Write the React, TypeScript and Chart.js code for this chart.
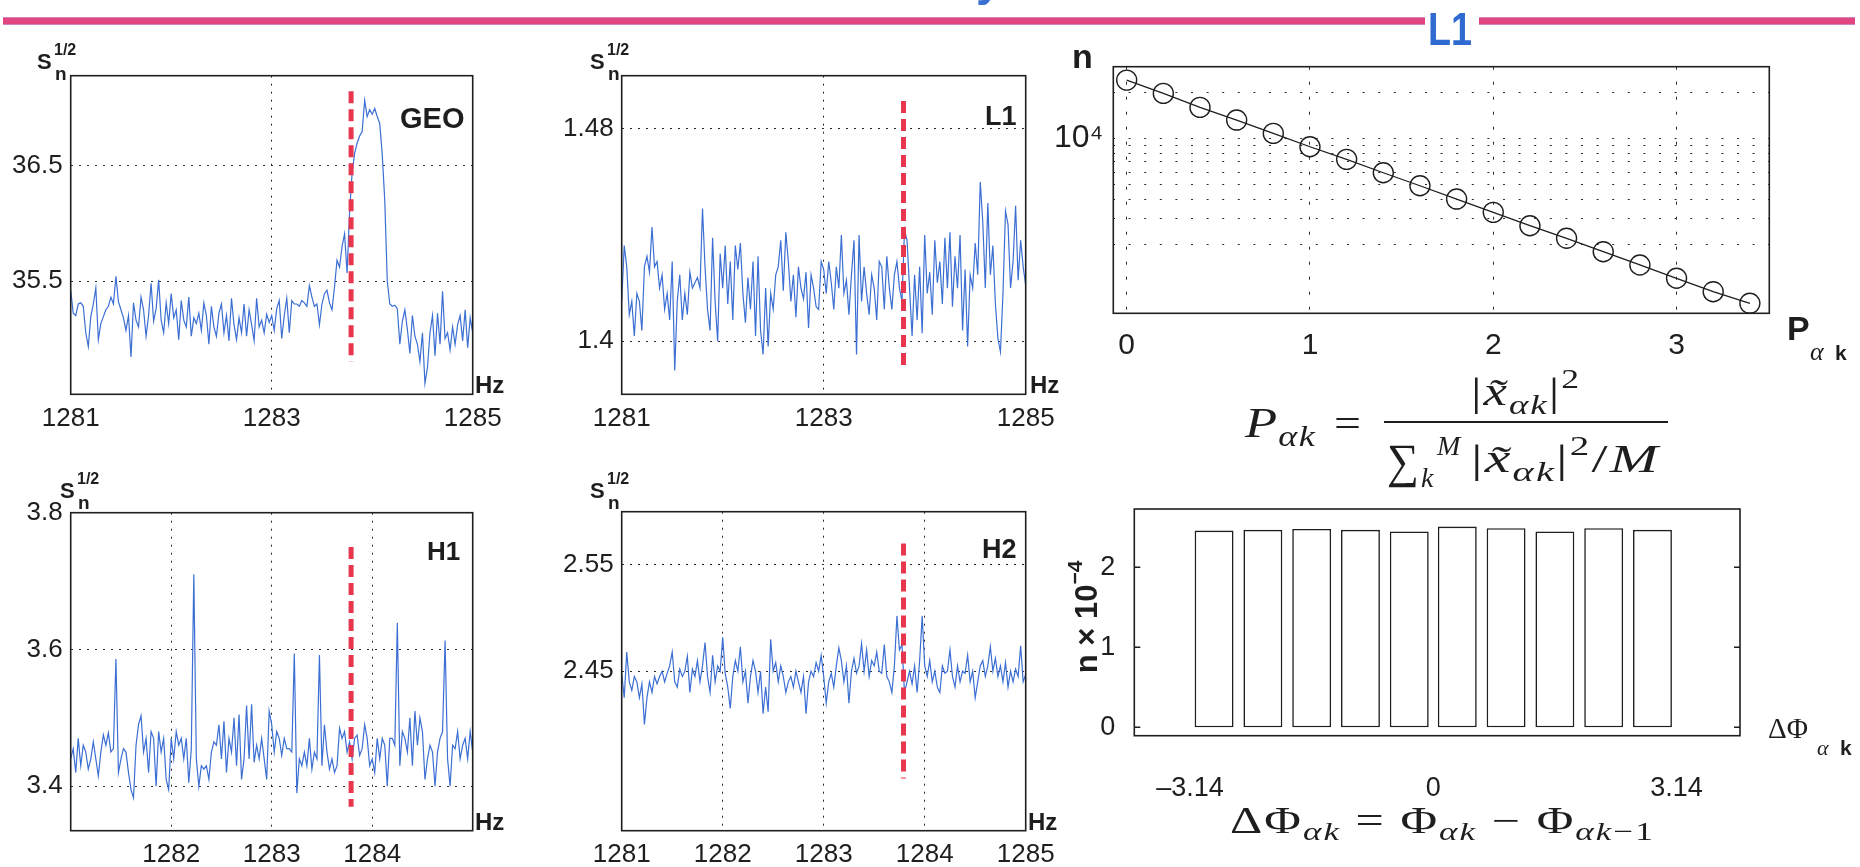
import React, { useEffect, useRef } from 'react';
import { Chart, registerables } from 'chart.js';

Chart.register(...registerables);

const SANS = '"Liberation Sans", Arial, Helvetica, sans-serif';
const SERIF = '"Liberation Serif", "Times New Roman", serif';
const BLUE = '#3c6fd3';
const RED = '#e8364e';
const INK = '#1e1e1e';

// ---------- spectra (frequency bins in Hz) ----------
const FREQ_START = 1281;
const FREQ_STEP = 0.025;

const geoValues = [
  35.42, 35.22, 35.20, 35.30, 35.31, 35.28, 35.05, 34.93, 35.19, 35.30,
  35.44, 34.99, 35.13, 35.19, 35.25, 35.28, 35.36, 35.30, 35.54, 35.32,
  35.25, 35.18, 35.07, 35.20, 34.84, 35.31, 35.16, 35.10, 35.36, 35.25,
  35.02, 35.20, 35.48, 35.15, 35.26, 35.51, 35.16, 35.05, 35.31, 35.13,
  35.39, 35.18, 35.25, 34.99, 35.33, 35.16, 35.10, 35.36, 35.02, 35.18,
  35.13, 35.22, 35.07, 35.31, 35.20, 34.95, 35.28, 35.10, 35.02, 35.22,
  35.30, 35.05, 35.20, 34.98, 35.35, 35.12, 34.99, 35.18, 35.05, 35.30,
  35.02, 35.25, 35.12, 34.98, 35.35, 35.10, 35.16, 35.05, 35.21, 35.14,
  35.20, 35.07, 35.26, 35.33, 35.00, 35.20, 35.35, 35.05, 35.33, 35.30,
  35.30, 35.28, 35.33, 35.31, 35.28, 35.46, 35.36, 35.28, 35.30, 35.12,
  35.30, 35.39, 35.42, 35.31, 35.25, 35.45, 35.68, 35.62, 35.80, 35.91,
  35.57, 36.10, 36.44, 36.61, 36.70, 36.76, 36.80, 37.07, 36.93, 36.99,
  36.95, 37.00, 36.93, 36.87, 36.60, 36.20, 35.50, 35.30, 35.28, 35.29,
  35.26, 34.95, 35.15, 35.25, 35.08, 34.87, 35.20, 35.02, 34.95, 34.80,
  35.05, 34.61, 34.75, 35.05, 35.20, 34.85, 35.22, 34.95, 35.41, 35.00,
  35.05, 34.90, 35.10, 34.95, 35.12, 35.20, 34.98, 35.25, 34.92, 35.18,
  35.05,
];

const l1Values = [
  1.415, 1.436, 1.428, 1.410, 1.415, 1.402, 1.418, 1.415, 1.404, 1.428,
  1.432, 1.426, 1.443, 1.428, 1.430, 1.420, 1.425, 1.412, 1.418, 1.408,
  1.430, 1.389, 1.415, 1.425, 1.408, 1.418, 1.410, 1.426, 1.420, 1.422,
  1.424, 1.420, 1.450, 1.428, 1.412, 1.404, 1.439, 1.415, 1.400, 1.433,
  1.420, 1.436, 1.414, 1.430, 1.408, 1.436, 1.427, 1.437, 1.418, 1.407,
  1.424, 1.412, 1.430, 1.402, 1.432, 1.404, 1.395, 1.420, 1.398, 1.418,
  1.412, 1.425, 1.428, 1.438, 1.419, 1.441, 1.430, 1.415, 1.425, 1.409,
  1.428, 1.420, 1.416, 1.426, 1.405, 1.425, 1.420, 1.413, 1.412, 1.430,
  1.427, 1.418, 1.430, 1.422, 1.412, 1.428, 1.420, 1.440, 1.418, 1.423,
  1.410, 1.425, 1.438, 1.395, 1.440, 1.415, 1.428, 1.418, 1.410, 1.425,
  1.420, 1.408, 1.430, 1.428, 1.412, 1.432, 1.420, 1.412, 1.425, 1.430,
  1.420, 1.415, 1.442, 1.438, 1.420, 1.402, 1.425, 1.408, 1.428, 1.403,
  1.440, 1.418, 1.426, 1.410, 1.438, 1.422, 1.430, 1.414, 1.439, 1.420,
  1.441, 1.413, 1.432, 1.420, 1.440, 1.404, 1.427, 1.398, 1.425, 1.420,
  1.437, 1.425, 1.460, 1.445, 1.420, 1.452, 1.425, 1.436, 1.414, 1.401,
  1.396, 1.418, 1.449, 1.444, 1.420, 1.430, 1.451, 1.423, 1.438, 1.428,
  1.421,
];

const h1Values = [
  3.44, 3.455, 3.42, 3.47, 3.43, 3.46, 3.45, 3.425, 3.44, 3.465,
  3.44, 3.415, 3.45, 3.475, 3.46, 3.478, 3.45, 3.455, 3.586, 3.42,
  3.44, 3.455, 3.45, 3.42, 3.395, 3.383, 3.46, 3.49, 3.503, 3.45,
  3.47, 3.42, 3.48, 3.47, 3.40, 3.48, 3.45, 3.47, 3.41, 3.395,
  3.47, 3.44, 3.48, 3.46, 3.47, 3.44, 3.47, 3.405, 3.455, 3.71,
  3.44, 3.40, 3.43, 3.425, 3.43, 3.41, 3.45, 3.465, 3.46, 3.49,
  3.44, 3.495, 3.42, 3.47, 3.45, 3.50, 3.43, 3.505, 3.41, 3.44,
  3.518, 3.44, 3.52, 3.435, 3.46, 3.44, 3.47, 3.44, 3.41, 3.51,
  3.49, 3.45, 3.48, 3.47, 3.445, 3.47, 3.455, 3.455, 3.45, 3.594,
  3.39, 3.44, 3.43, 3.45, 3.43, 3.47, 3.425, 3.45, 3.44, 3.592,
  3.43, 3.49, 3.45, 3.425, 3.44, 3.42, 3.43, 3.485, 3.47, 3.48,
  3.45, 3.465, 3.44, 3.47, 3.475, 3.445, 3.455, 3.49, 3.47, 3.43,
  3.44, 3.42, 3.47, 3.44, 3.47, 3.46, 3.40, 3.47, 3.47, 3.46,
  3.639, 3.43, 3.48, 3.47, 3.45, 3.50, 3.43, 3.51, 3.46, 3.50,
  3.48, 3.41, 3.44, 3.46, 3.45, 3.40, 3.45, 3.47, 3.48, 3.613,
  3.44, 3.40, 3.46, 3.455, 3.48, 3.44, 3.46, 3.47, 3.44, 3.48,
  3.45,
];

const h2Values = [
  2.448, 2.425, 2.468, 2.44, 2.432, 2.445, 2.44, 2.425, 2.438, 2.40,
  2.425, 2.44, 2.43, 2.445, 2.438, 2.445, 2.45, 2.44, 2.448, 2.455,
  2.468, 2.44, 2.435, 2.452, 2.445, 2.45, 2.464, 2.43, 2.452, 2.445,
  2.46, 2.44, 2.455, 2.477, 2.445, 2.43, 2.465, 2.44, 2.455, 2.45,
  2.482, 2.448, 2.435, 2.415, 2.445, 2.46, 2.45, 2.473, 2.44, 2.45,
  2.42, 2.445, 2.46, 2.45, 2.43, 2.45, 2.41, 2.435, 2.412, 2.48,
  2.45, 2.458, 2.44, 2.455, 2.445, 2.43, 2.44, 2.445, 2.435, 2.45,
  2.44, 2.43, 2.445, 2.41, 2.44, 2.45, 2.445, 2.458, 2.45, 2.465,
  2.445, 2.42, 2.44, 2.448, 2.435, 2.455, 2.472, 2.46, 2.44, 2.455,
  2.42, 2.45, 2.462, 2.448, 2.455, 2.476, 2.45, 2.47, 2.445, 2.46,
  2.455, 2.468, 2.45, 2.448, 2.475, 2.445, 2.44, 2.43, 2.455, 2.502,
  2.47, 2.475, 2.43, 2.44, 2.45, 2.438, 2.455, 2.43, 2.46, 2.502,
  2.455, 2.445, 2.46, 2.44, 2.45, 2.435, 2.43, 2.455, 2.448, 2.45,
  2.47, 2.445, 2.435, 2.455, 2.44, 2.45, 2.448, 2.465, 2.44, 2.45,
  2.425, 2.44, 2.455, 2.46, 2.445, 2.455, 2.473, 2.45, 2.462, 2.445,
  2.455, 2.44, 2.458, 2.435, 2.45, 2.44, 2.452, 2.445, 2.474, 2.44,
  2.447,
];

// candidate frequency marker (red dashed line)
const markerHz = [1283.79, 1283.79];
const geoMarkerY = [37.15, 34.8];
const l1MarkerY = [1.4905, 1.3903];
const h1MarkerY = [3.75, 3.37];
const h2MarkerY = [2.57, 2.349];

// axis ticks
const geoXTicks = [1281, 1283, 1285];
const geoYTicks = [35.5, 36.5];
const l1XTicks = [1281, 1283, 1285];
const l1YTicks = [1.4, 1.48];
const h1XTicks = [1282, 1283, 1284];
const h1YTicks = [3.4, 3.6, 3.8];
const h2XTicks = [1281, 1282, 1283, 1284, 1285];
const h2YTicks = [2.45, 2.55];

// ---------- power distribution (log scale) ----------
const powerBins = [0, 0.2, 0.4, 0.6, 0.8, 1.0, 1.2, 1.4, 1.6, 1.8, 2.0, 2.2, 2.4, 2.6, 2.8, 3.0, 3.2, 3.4];
const powerCounts = [24100, 19720, 15960, 13180, 10780, 8810, 7285, 5950, 4890, 4000, 3274, 2675, 2212, 1807, 1479, 1210, 988, 829];
const powerXTicks = [0, 1, 2, 3];
const powerYGrid = [2000, 3000, 4000, 5000, 6000, 7000, 8000, 9000, 10000, 20000];

// ---------- phase difference histogram (counts x 1e-4) ----------
const phaseBinCenters = [-2.83, -2.2, -1.57, -0.94, -0.31, 0.31, 0.94, 1.57, 2.2, 2.83];
const phaseCounts = [2.46, 2.47, 2.48, 2.47, 2.45, 2.51, 2.49, 2.45, 2.49, 2.47];
const phaseXTicks = [-3.14, 0, 3.14];
const phaseYTicks = [0, 1, 2];

// ---------- helpers ----------
type Box = { left: number; top: number; width: number; height: number };
type Area = { l: number; t: number; r: number; b: number };

function frameLayout(box: Box, area: Area) {
  return {
    padding: { left: 0, top: area.t - box.top, right: box.left + box.width - area.r, bottom: 0 },
    yWidth: area.l - box.left,
    xHeight: box.top + box.height - area.b,
  };
}

const framePlugin = {
  id: 'frameBox',
  afterDatasetsDraw(chart: any) {
    const { ctx, chartArea: a } = chart;
    ctx.save();
    ctx.strokeStyle = INK;
    ctx.lineWidth = 1.6;
    ctx.setLineDash([]);
    ctx.strokeRect(a.left, a.top, a.right - a.left, a.bottom - a.top);
    ctx.restore();
  },
};

const innerYTicksPlugin = {
  id: 'innerYTicks',
  afterDraw(chart: any) {
    const { ctx, chartArea: a } = chart;
    const y = chart.scales.y;
    ctx.save();
    ctx.strokeStyle = INK;
    ctx.lineWidth = 1.5;
    phaseYTicks.forEach((v) => {
      const py = y.getPixelForValue(v);
      ctx.beginPath();
      ctx.moveTo(a.left, py);
      ctx.lineTo(a.left + 6, py);
      ctx.moveTo(a.right, py);
      ctx.lineTo(a.right - 6, py);
      ctx.stroke();
    });
    ctx.restore();
  },
};

const baseOptions = {
  animation: false,
  responsive: false,
  devicePixelRatio: 1,
  events: [],
  plugins: { legend: { display: false }, tooltip: { enabled: false } },
};

function spectrumConfig(p: {
  box: Box; area: Area; values: number[]; yMin: number; yMax: number;
  yTicks: number[]; xTicks: number[]; markerY: number[];
}) {
  const L = frameLayout(p.box, p.area);
  return {
    type: 'line',
    data: {
      datasets: [
        {
          data: markerHz.map((x, i) => ({ x, y: p.markerY[i] })),
          borderColor: RED, borderWidth: 5, borderDash: [12, 6], borderCapStyle: 'butt',
          pointRadius: 0, order: 0,
        },
        {
          data: p.values.map((y, i) => ({ x: FREQ_START + i * FREQ_STEP, y })),
          borderColor: BLUE, borderWidth: 1.2, pointRadius: 0, tension: 0, order: 1,
        },
      ],
    },
    options: {
      ...baseOptions,
      layout: { padding: L.padding },
      scales: {
        x: {
          type: 'linear', min: 1281, max: 1285,
          afterBuildTicks: (s: any) => { s.ticks = p.xTicks.map((v) => ({ value: v })); },
          afterFit: (s: any) => { s.height = L.xHeight; },
          grid: { color: '#2a2a2a', lineWidth: 1, drawTicks: false },
          border: { display: false, dash: [2, 6] },
          ticks: {
            autoSkip: false, maxRotation: 0, padding: 9, color: INK,
            font: { family: SANS, size: 26 }, callback: (v: any) => String(v),
          },
        },
        y: {
          type: 'linear', min: p.yMin, max: p.yMax,
          afterBuildTicks: (s: any) => { s.ticks = p.yTicks.map((v) => ({ value: v })); },
          afterFit: (s: any) => { s.width = L.yWidth; },
          grid: { color: '#2a2a2a', lineWidth: 1, drawTicks: false },
          border: { display: false, dash: [2, 6] },
          ticks: {
            autoSkip: false, padding: 8, color: INK,
            font: { family: SANS, size: 26 }, callback: (v: any) => String(v),
          },
        },
      },
    },
    plugins: [framePlugin],
  };
}

function powerConfig(box: Box, area: Area) {
  const L = frameLayout(box, area);
  return {
    type: 'line',
    data: {
      datasets: [
        {
          data: powerBins.map((x, i) => ({ x, y: powerCounts[i] })),
          borderColor: INK, borderWidth: 1.3, tension: 0,
          pointRadius: 10, pointBorderWidth: 1.4, pointBorderColor: INK,
          pointBackgroundColor: 'rgba(0,0,0,0)', clip: false,
        },
      ],
    },
    options: {
      ...baseOptions,
      layout: { padding: L.padding },
      scales: {
        x: {
          type: 'linear', min: -0.073, max: 3.506,
          afterBuildTicks: (s: any) => { s.ticks = powerXTicks.map((v) => ({ value: v })); },
          afterFit: (s: any) => { s.height = L.xHeight; },
          grid: { color: '#2a2a2a', lineWidth: 1, drawTicks: false },
          border: { display: false, dash: [3, 12] },
          ticks: {
            autoSkip: false, maxRotation: 0, padding: 14, color: INK,
            font: { family: SANS, size: 30 }, callback: (v: any) => String(v),
          },
        },
        y: {
          type: 'logarithmic', min: 713, max: 29500,
          afterBuildTicks: (s: any) => { s.ticks = powerYGrid.map((v) => ({ value: v })); },
          afterFit: (s: any) => { s.width = L.yWidth; },
          grid: { color: '#2a2a2a', lineWidth: 1, drawTicks: false },
          border: { display: false, dash: [2, 13.6] },
          ticks: {
            autoSkip: false, padding: 10, color: INK,
            font: { family: SANS, size: 32 },
            callback: (v: any) => (v === 10000 ? '10\u2074' : ''),
          },
        },
      },
    },
    plugins: [framePlugin],
  };
}

function phaseConfig(box: Box, area: Area) {
  const L = frameLayout(box, area);
  return {
    type: 'bar',
    data: {
      datasets: [
        {
          data: phaseBinCenters.map((x, i) => ({ x, y: phaseCounts[i] })),
          backgroundColor: '#ffffff', borderColor: INK, borderWidth: 1.6,
          borderSkipped: false, barPercentage: 0.81, categoryPercentage: 1,
        },
      ],
    },
    options: {
      ...baseOptions,
      layout: { padding: L.padding },
      scales: {
        x: {
          type: 'linear', offset: false, min: -3.86, max: 3.96,
          afterBuildTicks: (s: any) => { s.ticks = phaseXTicks.map((v) => ({ value: v })); },
          afterFit: (s: any) => { s.height = L.xHeight; },
          grid: { display: false },
          border: { display: false },
          ticks: {
            autoSkip: false, maxRotation: 0, padding: 29, color: INK,
            font: { family: SANS, size: 27 },
            callback: (v: any) => String(v).replace('-', '\u2013'),
          },
        },
        y: {
          type: 'linear', min: -0.105, max: 2.73,
          afterBuildTicks: (s: any) => { s.ticks = phaseYTicks.map((v) => ({ value: v })); },
          afterFit: (s: any) => { s.width = L.yWidth; },
          grid: { display: false },
          border: { display: false },
          ticks: { autoSkip: false, padding: 11, color: INK, font: { family: SANS, size: 27 } },
        },
      },
    },
    plugins: [framePlugin, innerYTicksPlugin],
  };
}

function ChartCanvas({ box, build }: { box: Box; build: () => any }) {
  const ref = useRef<HTMLCanvasElement>(null);
  useEffect(() => {
    const chart = new Chart(ref.current as HTMLCanvasElement, build());
    return () => chart.destroy();
  }, []);
  return (
    <canvas
      ref={ref}
      width={box.width}
      height={box.height}
      style={{ position: 'absolute', left: box.left, top: box.top, width: box.width, height: box.height }}
    />
  );
}

// SVG text helper: y is the baseline
function T({ x, y, s, b, i, f = SANS, c = INK, tl, la = 'spacingAndGlyphs', ls, anchor, children, transform, db }: any) {
  return (
    <text
      x={x}
      y={y}
      fontSize={s}
      fontFamily={f}
      fontWeight={b ? 700 : 400}
      fontStyle={i ? 'italic' : 'normal'}
      fill={c}
      textLength={tl}
      lengthAdjust={tl ? la : undefined}
      letterSpacing={ls}
      textAnchor={anchor}
      transform={transform}
      dominantBaseline={db}
    >
      {children}
    </text>
  );
}

function SLabel({ x, y }: { x: number; y: number }) {
  return (
    <>
      <T x={x} y={y} s={22} b>S</T>
      <T x={x + 17} y={y - 14} s={16} b>1/2</T>
      <T x={x + 18} y={y + 11} s={19} b>n</T>
    </>
  );
}

const XT = 'x\u0303';

const geoBox: Box = { left: 0, top: 40, width: 530, height: 400 };
const geoArea: Area = { l: 70.7, t: 75.7, r: 472.7, b: 394.3 };
const l1Box: Box = { left: 540, top: 40, width: 530, height: 400 };
const l1Area: Area = { l: 621.7, t: 75.7, r: 1025.7, b: 394.3 };
const h1Box: Box = { left: 0, top: 440, width: 530, height: 427 };
const h1Area: Area = { l: 70.7, t: 512.7, r: 472.7, b: 830.7 };
const h2Box: Box = { left: 540, top: 440, width: 530, height: 427 };
const h2Area: Area = { l: 621.7, t: 511.7, r: 1025.7, b: 830.7 };
const powBox: Box = { left: 1040, top: 30, width: 760, height: 360 };
const powArea: Area = { l: 1113.3, t: 66.7, r: 1769.3, b: 313.3 };
const phBox: Box = { left: 1040, top: 480, width: 760, height: 330 };
const phArea: Area = { l: 1134.3, t: 509, r: 1740, b: 735.7 };

const pinkBar = 'linear-gradient(to bottom, #c9a3dc 0px, #e2457f 1.5px, #e2457f 6.5px, #c9a3dc 8px)';

export default function App() {
  return (
    <div style={{ position: 'absolute', left: 0, top: 0, width: 1860, height: 867, overflow: 'hidden', background: '#fff' }}>
      {/* header */}
      <div style={{ position: 'absolute', left: 3, top: 17, width: 1422, height: 8, background: pinkBar }} />
      <div style={{ position: 'absolute', left: 1479, top: 17, width: 376, height: 8, background: pinkBar }} />

      {/* charts */}
      <ChartCanvas box={geoBox} build={() => spectrumConfig({ box: geoBox, area: geoArea, values: geoValues, yMin: 34.515, yMax: 37.285, yTicks: geoYTicks, xTicks: geoXTicks, markerY: geoMarkerY })} />
      <ChartCanvas box={l1Box} build={() => spectrumConfig({ box: l1Box, area: l1Area, values: l1Values, yMin: 1.38, yMax: 1.5, yTicks: l1YTicks, xTicks: l1XTicks, markerY: l1MarkerY })} />
      <ChartCanvas box={h1Box} build={() => spectrumConfig({ box: h1Box, area: h1Area, values: h1Values, yMin: 3.335, yMax: 3.8, yTicks: h1YTicks, xTicks: h1XTicks, markerY: h1MarkerY })} />
      <ChartCanvas box={h2Box} build={() => spectrumConfig({ box: h2Box, area: h2Area, values: h2Values, yMin: 2.3, yMax: 2.6, yTicks: h2YTicks, xTicks: h2XTicks, markerY: h2MarkerY })} />
      <ChartCanvas box={powBox} build={() => powerConfig(powBox, powArea)} />
      <ChartCanvas box={phBox} build={() => phaseConfig(phBox, phArea)} />

      {/* text layer */}
      <svg width={1860} height={867} style={{ position: 'absolute', left: 0, top: 0, pointerEvents: 'none' }}>
        <T x={1428} y={45} s={46} b c="#2f6ad0" tl={44}>L1</T>
        <T x={976} y={-5} s={46} b c="#3a70d0">y</T>

        <SLabel x={37} y={69} />
        <SLabel x={590} y={69} />
        <SLabel x={60} y={498} />
        <SLabel x={590} y={498} />

        <T x={400} y={128} s={29} b>GEO</T>
        <T x={985} y={125} s={27} b>L1</T>
        <T x={427} y={560} s={26} b>H1</T>
        <T x={982} y={558} s={27} b>H2</T>

        <T x={475} y={393} s={24} b>Hz</T>
        <T x={1030} y={393} s={24} b>Hz</T>
        <T x={475} y={830} s={24} b>Hz</T>
        <T x={1028} y={830} s={24} b>Hz</T>

        {/* power distribution axis labels */}
        <T x={1072} y={68} s={34} b>n</T>
        <T x={1787} y={340} s={34} b>P</T>
        <T x={1810} y={360} s={26} f={SERIF} i>α</T>
        <T x={1835} y={360} s={21} b>k</T>

        {/* P_ak formula */}
        <T x={1245} y={437} s={42} f={SERIF} i ls={1} tl={71}>P<tspan fontSize={29} dy={9}>αk</tspan></T>
        <T x={1334} y={437} s={40} f={SERIF} tl={27}>=</T>
        <rect x={1384} y={421} width={284} height={2} fill={INK} />
        <T x={1471} y={405} s={40} f={SERIF} ls={1.5} tl={110}>|<tspan fontStyle="italic">{XT}</tspan><tspan fontStyle="italic" fontSize={28} dy={9}>αk</tspan><tspan dy={-9}>|</tspan><tspan fontSize={27} dy={-17}>2</tspan></T>
        <T x={1387} y={477} s={48} f={SERIF} tl={32}>∑</T>
        <T x={1437} y={455} s={28} f={SERIF} i>M</T>
        <T x={1421} y={487} s={28} f={SERIF} i>k</T>
        <T x={1471} y={472} s={40} f={SERIF} ls={1.5} tl={189}>|<tspan fontStyle="italic">{XT}</tspan><tspan fontStyle="italic" fontSize={28} dy={9}>αk</tspan><tspan dy={-9}>|</tspan><tspan fontSize={27} dy={-17}>2</tspan><tspan dy={17}>/</tspan><tspan fontStyle="italic">M</tspan></T>

        {/* phase histogram labels */}
        <T x={1086} y={617} s={31} b anchor="middle" db="central" transform="rotate(-90 1086 617)">n × 10<tspan fontSize={21} dy={-12}>−4</tspan></T>
        <T x={1768} y={738} s={30} f={SERIF} tl={40}>ΔΦ</T>
        <T x={1817} y={755} s={22} f={SERIF} i>α</T>
        <T x={1840} y={755} s={21} b>k</T>

        <T x={1230} y={833} s={37} f={SERIF} ls={1.5} tl={425}>ΔΦ<tspan fontStyle="italic" fontSize={26} dy={7}>αk</tspan><tspan dy={-7}> = Φ</tspan><tspan fontStyle="italic" fontSize={26} dy={7}>αk</tspan><tspan dy={-7}> − Φ</tspan><tspan fontStyle="italic" fontSize={26} dy={7}>αk</tspan><tspan fontSize={26}>−1</tspan></T>
      </svg>
    </div>
  );
}
